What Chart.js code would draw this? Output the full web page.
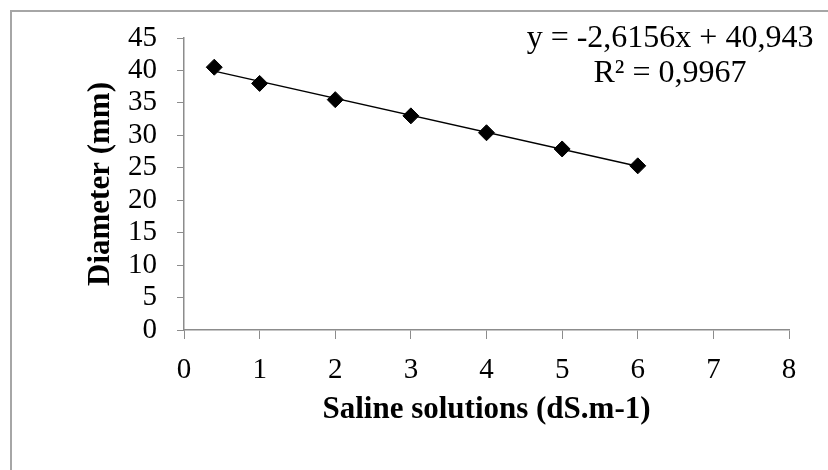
<!DOCTYPE html>
<html lang="en">
<head>
<meta charset="UTF-8">
<title>Diameter vs saline solutions</title>
<script src="https://cdn.jsdelivr.net/npm/chart.js"></script>
<style>
  body { margin: 0; background: #fff; }
  .frame { position: absolute; left: 10px; top: 10px; width: 840px; height: 480px; border: 2px solid #a6a6a6; box-sizing: border-box; }
  .wrap { position: absolute; left: 0; top: 0; width: 828px; height: 470px; }
</style>
</head>
<body>
<div class="frame"></div>
<div class="wrap"><canvas id="chart"></canvas></div>
<script>
  // values
  const salinity = [0.4, 1, 2, 3, 4, 5, 6];
  const diameter = [40.5, 38, 35.5, 33, 30.4, 27.9, 25.3];
  // trendline from the equation shown on the chart
  const slope = -2.6156;
  const intercept = 40.943;
  const equationLines = ['y = -2,6156x + 40,943', 'R\u00b2 = 0,9967'];

  const xFirst = salinity[0];
  const xLast = salinity[salinity.length - 1];
  const trend = [
    { x: xFirst, y: slope * xFirst + intercept },
    { x: xLast, y: slope * xLast + intercept }
  ];

  const serif = 'Liberation Serif';

  // draws the trendline label like excel does
  const equationLabel = {
    id: 'equationLabel',
    afterDraw(chart) {
      const ctx = chart.ctx;
      const area = chart.chartArea;
      ctx.save();
      ctx.font = '32px "' + serif + '"';
      ctx.fillStyle = '#000';
      ctx.textAlign = 'center';
      ctx.textBaseline = 'middle';
      const cx = area.right - 119;
      ctx.fillText(equationLines[0], cx, area.top + 1);
      ctx.fillText(equationLines[1], cx, area.top + 36);
      ctx.restore();
    }
  };

  new Chart(document.getElementById('chart'), {
    type: 'scatter',
    data: {
      datasets: [
        {
          label: 'Diameter',
          data: salinity.map((s, i) => ({ x: s, y: diameter[i] })),
          pointStyle: 'rectRot',
          pointRadius: 8,
          pointBackgroundColor: '#000',
          pointBorderColor: '#000',
          showLine: false,
          order: 1
        },
        {
          label: 'Trend',
          type: 'line',
          data: trend,
          borderColor: '#000',
          borderWidth: 1.5,
          pointRadius: 0,
          fill: false,
          order: 2
        }
      ]
    },
    options: {
      responsive: true,
      maintainAspectRatio: false,
      animation: false,
      layout: { padding: { left: 82, top: 38, right: 39, bottom: 33 } },
      plugins: { legend: { display: false }, tooltip: { enabled: false } },
      scales: {
        x: {
          type: 'linear',
          min: 0,
          max: 8,
          afterFit(scale) { scale.height = 107; },
          border: { display: true, color: '#8c8c8c', width: 1.5 },
          grid: { drawOnChartArea: false, drawTicks: true, tickLength: 9, color: '#8c8c8c' },
          ticks: { stepSize: 1, autoSkip: false, color: '#000', padding: 14, font: { family: serif, size: 29 } },
          title: {
            display: true,
            text: 'Saline solutions (dS.m-1)',
            color: '#000',
            padding: { top: 0, bottom: 8 },
            font: { family: serif, size: 31, weight: 'bold' }
          }
        },
        y: {
          min: 0,
          max: 45,
          afterFit(scale) { scale.width = 102; },
          border: { display: true, color: '#8c8c8c', width: 1.5 },
          grid: { drawOnChartArea: false, drawTicks: true, tickLength: 7, color: '#8c8c8c' },
          ticks: { stepSize: 5, autoSkip: false, color: '#000', padding: 20, font: { family: serif, size: 29 } },
          title: {
            display: true,
            text: 'Diameter (mm)',
            color: '#000',
            padding: { top: 0, bottom: 0 },
            font: { family: serif, size: 31, weight: 'bold' }
          }
        }
      }
    },
    plugins: [equationLabel]
  });
</script>
</body>
</html>
